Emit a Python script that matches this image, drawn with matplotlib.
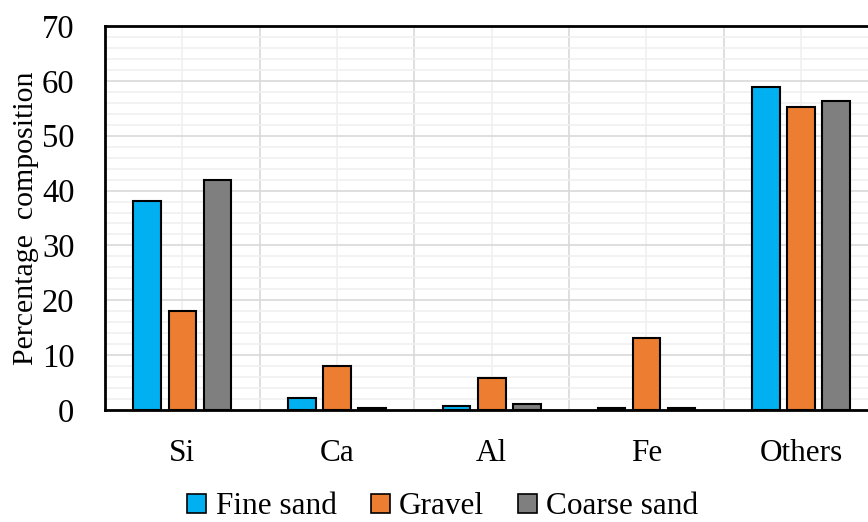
import matplotlib
matplotlib.use("Agg")
import matplotlib.pyplot as plt
import numpy as np
from matplotlib.patches import Patch

categories = ["Si", "Ca", "Al", "Fe", "Others"]
fine_sand = [38.1, 2.2, 0.7, 0.4, 58.9]
gravel = [18.0, 8.0, 5.8, 13.1, 55.2]
coarse_sand = [41.9, 0.4, 1.1, 0.4, 56.4]
series_names = ["Fine sand", "Gravel", "Coarse sand"]
colors = ["#00B0F0", "#ED7D31", "#7F7F7F"]

plt.rcParams['font.family'] = ['Liberation Serif', 'DejaVu Serif']

fig = plt.figure(figsize=(8.68, 5.22), dpi=100)
ax = fig.add_axes([105/868, 1-410/522, 773.5/868, 384/522])

x = np.arange(len(categories))
w = 0.178
off = 0.227
for i, (vals, c) in enumerate(zip([fine_sand, gravel, coarse_sand], colors)):
    ax.bar(x + (i-1)*off, vals, width=w, color=c, edgecolor="black", linewidth=1.5, zorder=3)

ax.set_xlim(-0.5, 4.5)
ax.set_ylim(0, 70)
ax.set_yticks(np.arange(0, 71, 10))
ax.set_yticks(np.arange(0, 71, 2), minor=True)
ax.set_xticks(x)
ax.set_xticklabels(categories)
ax.set_xticks(np.arange(0.5, 4.0, 1.0), minor=True)

ax.grid(which="major", axis="y", color="#d9d9d9", linewidth=1.2, zorder=0)
ax.grid(which="minor", axis="y", color="#f0f0f0", linewidth=1.2, zorder=0)
ax.grid(which="minor", axis="x", color="#d9d9d9", linewidth=1.2, zorder=0)
ax.grid(which="major", axis="x", color="#f0f0f0", linewidth=1.2, zorder=0)
ax.set_axisbelow(True)

ax.tick_params(which="both", length=0)
ax.tick_params(axis="y", labelsize=23.5, pad=22)
ax.tick_params(axis="x", labelsize=22.5, pad=21)

for s in ["left", "top", "bottom"]:
    ax.spines[s].set_linewidth(2)
    ax.spines[s].set_color("black")
ax.spines["right"].set_visible(False)

ax.set_ylabel("Percentage  composition", fontsize=21.5)
ax.yaxis.set_label_coords(-0.085, 0.5)

handles = [Patch(facecolor=c, edgecolor="black", linewidth=1.2) for c in colors]
fig.legend(handles, series_names, loc="center", bbox_to_anchor=(443/868, 1-507/522),
           ncol=3, frameon=False, fontsize=22.5, handlelength=0.6, handleheight=0.6,
           handletextpad=0.3, columnspacing=1.1, borderpad=0.1)

fig.savefig("out.png", dpi=100)
